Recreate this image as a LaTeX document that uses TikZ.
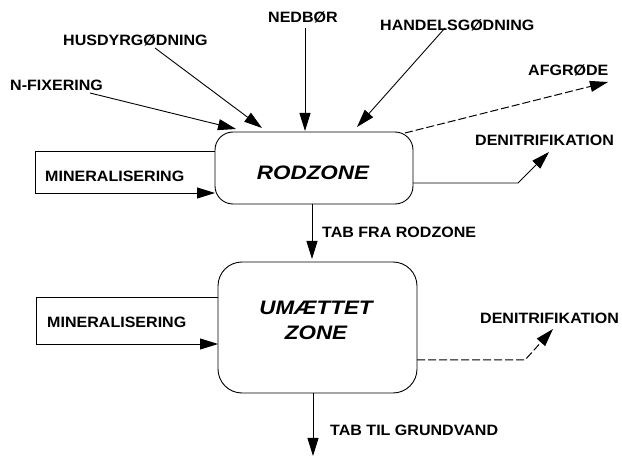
\documentclass[tikz,border=0pt]{standalone}
\usepackage{fontspec}
\setmainfont[FakeStretch=1.07]{Liberation Sans}
\newfontfamily\zonefont[FakeStretch=1.15]{Liberation Sans}
\usetikzlibrary{arrows.meta}
\begin{document}
\begin{tikzpicture}[x=1pt,y=-1pt,
  lbl/.style={font=\bfseries\fontsize{15}{17}\selectfont, inner sep=0pt, anchor=west},
  zonebox/.style={draw, line width=0.9pt, rounded corners=#1, inner sep=0pt},
  zonetxt/.style={font=\zonefont\bfseries\itshape\fontsize{19.5}{25}\selectfont, align=center, inner sep=0pt},
  flow/.style={line width=0.9pt, -{Triangle[length=18pt,width=11pt]}},
  flowdash/.style={flow, line width=1pt, dash pattern=on 8pt off 3pt}
]
\useasboundingbox (0,0) rectangle (622,457);

% boxes
\draw[zonebox=18pt] (215,132) rectangle (413,204);
\draw[zonebox=24pt] (218,262) rectangle (417,393);
\node[zonetxt] (rod) at (313,173) {RODZONE};
\node[zonetxt] (umz) at (316,320) {UMÆTTET\\ZONE};

% labels
\node[lbl] (ned) at (268,17) {NEDBØR};
\node[lbl] (hus) at (63,40) {HUSDYRGØDNING};
\node[lbl] (nfix) at (10,85) {N-FIXERING};
\node[lbl] (han) at (380,25) {HANDELSGØDNING};
\node[lbl] (afg) at (528,70) {AFGRØDE};
\node[lbl] (den1) at (475,140) {DENITRIFIKATION};
\node[lbl] (min1) at (45,176) {MINERALISERING};
\node[lbl] (tab1) at (322,232) {TAB FRA RODZONE};
\node[lbl] (min2) at (47,322) {MINERALISERING};
\node[lbl] (den2) at (480,318) {DENITRIFIKATION};
\node[lbl] (tab2) at (330,430) {TAB TIL GRUNDVAND};

% coordinates
\coordinate (nedS) at (305,28);   \coordinate (nedE) at (305,131);
\coordinate (husS) at (155,48);   \coordinate (husE) at (262,128);
\coordinate (nfS) at (90,93);     \coordinate (nfE) at (236,129);
\coordinate (hanS) at (445,28);   \coordinate (hanE) at (357,127);
\coordinate (afS) at (405,133);   \coordinate (afE) at (608,82);
\coordinate (d1S) at (413,183);   \coordinate (d1M) at (518,183);  \coordinate (d1E) at (549,152);
\coordinate (d2S) at (417,360);   \coordinate (d2M) at (525,360);  \coordinate (d2E) at (553,329);
\coordinate (m1S) at (215,151);   \coordinate (m1E) at (215,193);
\coordinate (m2S) at (218,297);   \coordinate (m2E) at (218,344);
\coordinate (t1S) at (312,204);   \coordinate (t1E) at (312,259);
\coordinate (t2S) at (313,393);   \coordinate (t2E) at (313,456);

% flows
\draw[flow] (nedS) -- (nedE);
\draw[flow] (husS) -- (husE);
\draw[flow] (nfS) -- (nfE);
\draw[flow] (hanS) -- (hanE);
\draw[flowdash] (afS) -- (afE);
\draw[flow] (d1S) -- (d1M) -- (d1E);
\draw[flowdash] (d2S) -- (d2M) -- (d2E);
\draw[flow] (m1S) -- (35,151) -- (35,193) -- (m1E);
\draw[flow] (m2S) -- (36,297) -- (36,344) -- (m2E);
\draw[flow] (t1S) -- (t1E);
\draw[flow] (t2S) -- (t2E);
\end{tikzpicture}
\end{document}
